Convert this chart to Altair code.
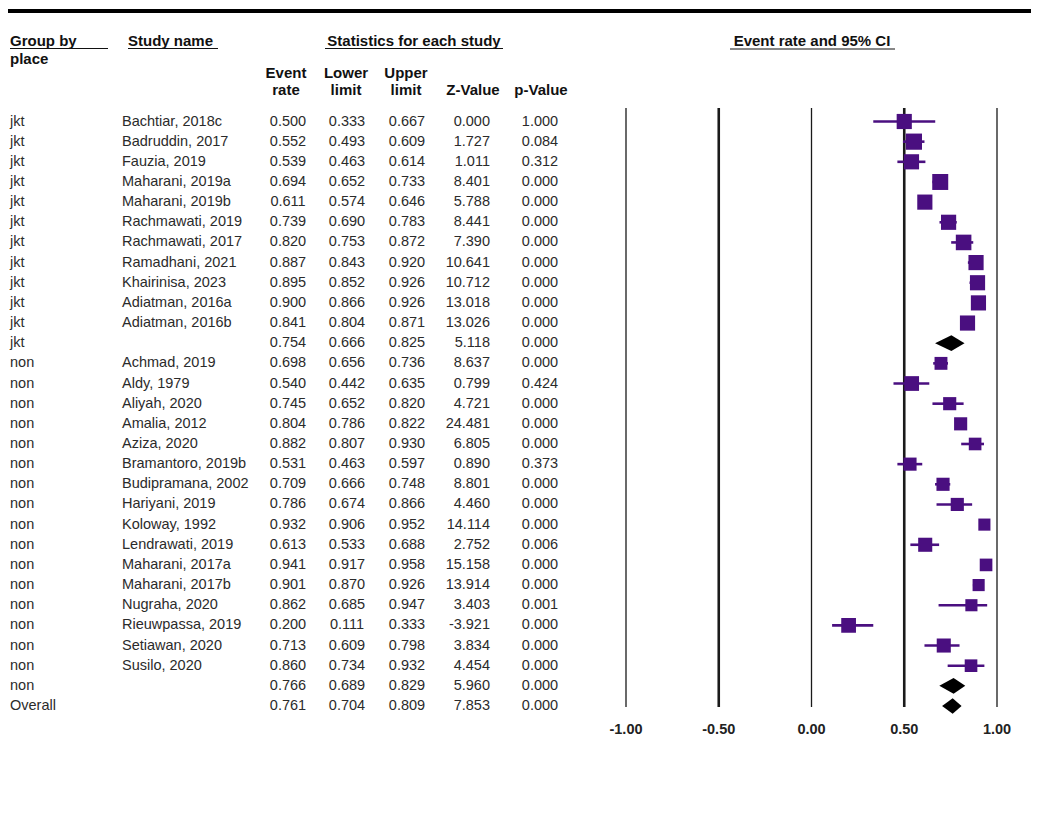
import altair as alt
import pandas as pd

# ---------------- data ----------------
groups = ["jkt"] * 12 + ["non"] * 17 + ["Overall"]
studies = [
    "Bachtiar, 2018c", "Badruddin, 2017", "Fauzia, 2019", "Maharani, 2019a",
    "Maharani, 2019b", "Rachmawati, 2019", "Rachmawati, 2017", "Ramadhani, 2021",
    "Khairinisa, 2023", "Adiatman, 2016a", "Adiatman, 2016b", "",
    "Achmad, 2019", "Aldy, 1979", "Aliyah, 2020", "Amalia, 2012", "Aziza, 2020",
    "Bramantoro, 2019b", "Budipramana, 2002", "Hariyani, 2019", "Koloway, 1992",
    "Lendrawati, 2019", "Maharani, 2017a", "Maharani, 2017b", "Nugraha, 2020",
    "Rieuwpassa, 2019", "Setiawan, 2020", "Susilo, 2020", "", "",
]
event_rate = [0.500, 0.552, 0.539, 0.694, 0.611, 0.739, 0.820, 0.887, 0.895, 0.900, 0.841, 0.754,
              0.698, 0.540, 0.745, 0.804, 0.882, 0.531, 0.709, 0.786, 0.932, 0.613, 0.941, 0.901,
              0.862, 0.200, 0.713, 0.860, 0.766, 0.761]
lower_limit = [0.333, 0.493, 0.463, 0.652, 0.574, 0.690, 0.753, 0.843, 0.852, 0.866, 0.804, 0.666,
               0.656, 0.442, 0.652, 0.786, 0.807, 0.463, 0.666, 0.674, 0.906, 0.533, 0.917, 0.870,
               0.685, 0.111, 0.609, 0.734, 0.689, 0.704]
upper_limit = [0.667, 0.609, 0.614, 0.733, 0.646, 0.783, 0.872, 0.920, 0.926, 0.926, 0.871, 0.825,
               0.736, 0.635, 0.820, 0.822, 0.930, 0.597, 0.748, 0.866, 0.952, 0.688, 0.958, 0.926,
               0.947, 0.333, 0.798, 0.932, 0.829, 0.809]
z_value = [0.000, 1.727, 1.011, 8.401, 5.788, 8.441, 7.390, 10.641, 10.712, 13.018, 13.026, 5.118,
           8.637, 0.799, 4.721, 24.481, 6.805, 0.890, 8.801, 4.460, 14.114, 2.752, 15.158, 13.914,
           3.403, -3.921, 3.834, 4.454, 5.960, 7.853]
p_value = [1.000, 0.084, 0.312, 0.000, 0.000, 0.000, 0.000, 0.000, 0.000, 0.000, 0.000, 0.000,
           0.000, 0.424, 0.000, 0.000, 0.000, 0.373, 0.000, 0.000, 0.000, 0.006, 0.000, 0.000,
           0.001, 0.000, 0.000, 0.000, 0.000, 0.000]
row_kind = ["study"] * 11 + ["summary"] + ["study"] * 16 + ["summary", "summary"]
study_weight = [3.6, 4.1, 3.6, 4.0, 3.6, 3.6, 3.8, 3.6, 3.6, 3.6, 3.6, 0,
                2.6, 3.4, 2.7, 2.7, 2.5, 2.7, 2.7, 2.7, 2.3, 3.1, 2.5, 2.3,
                2.3, 3.4, 3.1, 2.5, 0, 0]
axis_ticks = [-1.0, -0.5, 0.0, 0.5, 1.0]
tick_labels = ["-1.00", "-0.50", "0.00", "0.50", "1.00"]

# ---------------- tables ----------------
n = len(groups)
df = pd.DataFrame({
    "row": list(range(n)),
    "group": groups,
    "study": studies,
    "est": event_rate,
    "lo": lower_limit,
    "up": upper_limit,
    "weight": study_weight,
    "kind": row_kind,
    "est_s": [f"{v:.3f}" for v in event_rate],
    "lo_s": [f"{v:.3f}" for v in lower_limit],
    "up_s": [f"{v:.3f}" for v in upper_limit],
    "z_s": [f"{v:.3f}" for v in z_value],
    "p_s": [f"{v:.3f}" for v in p_value],
})
df_study = df[df["kind"] == "study"]

diam_rows = []
for _, r in df[df["kind"] == "summary"].iterrows():
    h = 0.39
    diam_rows.append({"id": r["row"], "dx": r["lo"], "dy": r["row"], "dy2": r["row"]})
    diam_rows.append({"id": r["row"], "dx": r["est"], "dy": r["row"] - h, "dy2": r["row"] + h})
    diam_rows.append({"id": r["row"], "dx": r["up"], "dy": r["row"], "dy2": r["row"]})
df_diam = pd.DataFrame(diam_rows)

grid_df = pd.DataFrame({"tick": axis_ticks, "label": tick_labels,
                        "w": [2.6 if abs(t) == 0.5 else 1.3 for t in axis_ticks]})
one = pd.DataFrame({"a": [0]})

# ---------------- styling ----------------
FONT = "Liberation Sans"
TXT = "#2b2b2b"
PURPLE = "#4a0f80"
OFF = 8  # page margin

xs = alt.Scale(domain=[-1, 1], range=[626 - OFF, 997 - OFF], nice=False, zero=False)
ys = alt.Scale(domain=[0, n - 1], range=[121.5 - OFF, 706 - OFF], nice=False, zero=False)

layers = []

# top thick rule
layers.append(alt.Chart(one).mark_rule(color="black", strokeWidth=4).encode(
    x=alt.value(0), x2=alt.value(1023), y=alt.value(11 - OFF)))
# bottom faint rule
layers.append(alt.Chart(one).mark_rule(color="#e4e4e4", strokeWidth=1.5).encode(
    x=alt.value(0), x2=alt.value(1023), y=alt.value(810 - OFF)))

# headers
headers = [
    ("Group by", 10, 41, "left"),
    ("place", 10, 59, "left"),
    ("Study name", 128, 41, "left"),
    ("Statistics for each study", 414, 41, "center"),
    ("Event", 286, 73, "center"),
    ("rate", 286, 90, "center"),
    ("Lower", 346, 73, "center"),
    ("limit", 346, 90, "center"),
    ("Upper", 406, 73, "center"),
    ("limit", 406, 90, "center"),
    ("Z-Value", 473, 90, "center"),
    ("p-Value", 541, 90, "center"),
    ("Event rate and 95% CI", 812, 41, "center"),
]
for txt, hx, hy, al in headers:
    layers.append(alt.Chart(one).mark_text(
        text=txt, align=al, baseline="middle", font=FONT, fontSize=15,
        fontWeight="bold", color="#111111").encode(
        x=alt.value(hx - OFF), y=alt.value(hy - OFF)))

underlines = [(10, 108, 48.5), (128, 218, 48.5), (325, 503, 48.5), (730, 895, 49)]
for x1, x2, uy in underlines:
    layers.append(alt.Chart(one).mark_rule(color="#111111", strokeWidth=1.2).encode(
        x=alt.value(x1 - OFF), x2=alt.value(x2 - OFF), y=alt.value(uy - OFF)))

# table columns
cols = [
    ("group", 10, "left"),
    ("study", 122, "left"),
    ("est_s", 288, "center"),
    ("lo_s", 347, "center"),
    ("up_s", 407, "center"),
    ("z_s", 490, "right"),
    ("p_s", 540, "center"),
]
for field, cx, al in cols:
    layers.append(alt.Chart(df).mark_text(
        align=al, baseline="middle", font=FONT, fontSize=14.5, color=TXT).encode(
        x=alt.value(cx - OFF),
        y=alt.Y("row:Q", scale=ys, axis=None),
        text=alt.Text(f"{field}:N")))

# vertical reference lines and their labels
layers.append(alt.Chart(grid_df).mark_rule(color="#1a1a1a").encode(
    x=alt.X("tick:Q", scale=xs, axis=None),
    y=alt.value(108 - OFF), y2=alt.value(707 - OFF),
    strokeWidth=alt.StrokeWidth("w:Q", scale=None, legend=None)))
layers.append(alt.Chart(grid_df).mark_text(
    font=FONT, fontSize=14.5, fontWeight="bold", color="#222222",
    align="center", baseline="middle").encode(
    x=alt.X("tick:Q", scale=xs, axis=None),
    y=alt.value(730 - OFF),
    text="label:N"))

# confidence intervals
layers.append(alt.Chart(df_study).mark_rule(color=PURPLE, strokeWidth=2.6).encode(
    x=alt.X("lo:Q", scale=xs, axis=None), x2="up:Q",
    y=alt.Y("row:Q", scale=ys, axis=None)))
# squares
layers.append(alt.Chart(df_study).mark_square(color=PURPLE, opacity=1, filled=True).encode(
    x=alt.X("est:Q", scale=xs, axis=None),
    y=alt.Y("row:Q", scale=ys, axis=None),
    size=alt.Size("weight:Q", scale=alt.Scale(domain=[0, 4.1], range=[0, 262], zero=True),
                  legend=None)))
# diamonds
layers.append(alt.Chart(df_diam).mark_area(color="black", orient="vertical", opacity=1).encode(
    x=alt.X("dx:Q", scale=xs, axis=None),
    y=alt.Y("dy:Q", scale=ys, axis=None),
    y2="dy2:Q",
    detail="id:N"))

chart = alt.layer(*layers).properties(
    width=1023, height=800, padding=0,
    autosize=alt.AutoSizeParams(type="none"),
    background="white",
).configure_view(stroke=None)

chart.save("out.html", embed_options={"renderer": "svg", "actions": False})
